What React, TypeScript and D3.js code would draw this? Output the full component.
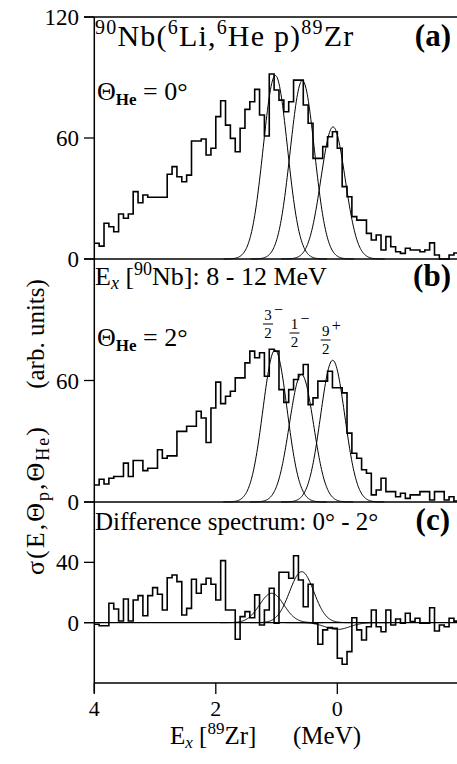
import React from "react";
import * as d3 from "d3";

// ---- data ----
const binStart = 4; // MeV, left edge of first bin
const binWidth = 0.08; // MeV
const countsA = [
  7.8, 6.4, 17.7, 16, 13.5, 22.3, 20.2, 22.3, 33.4, 27.9, 31.7, 30.6, 30.6, 30.6, 30.6,
  42, 45.8, 40.8, 38.3, 41.6, 58.5, 58.5, 59.5, 51.6, 54.9, 70.6, 78.5, 66.4, 59.8, 53.2,
  64.8, 74.2, 78, 84.1, 71.4, 61, 91.7, 83.8, 78.8, 73, 78, 88.7, 88.7, 76.4, 67.3,
  49.9, 49.9, 55.7, 60.6, 63.1, 54.9, 35.9, 30.9, 21, 19.3, 19.3, 12.7, 9.4, 11.9, 4.5,
  11.1, 6.1, 3.6, 2.8, 5.3, 4.5, 4.5, 3.6, 4.5, 8, 2, 0, 0, 2, 3,
];
const countsB = [
  8.4, 11.2, 8.9, 11.7, 12.6, 12.6, 19.2, 12.6, 20.5, 20.5, 15.5, 16.7, 16.7, 25.8, 21.6,
  22.8, 22.8, 34.9, 34.9, 37.4, 37.4, 44.8, 41.5, 29.4, 46.4, 59.2, 48.6, 52.2, 54.7, 61.3,
  61.3, 68.7, 74.5, 71.2, 73.7, 62.1, 75.4, 74.5, 55.5, 49.2, 55.5, 60.5, 63, 67.9, 48.1,
  51.4, 59.7, 59.7, 64.6, 56.4, 56.4, 53.9, 34, 24.1, 21.6, 15.9, 14.2, 3.5, 5.9, 11.7,
  5.1, 5.1, 2.6, 4.3, 1.8, 3.5, 3.5, 5.1, 5.1, 1, 5.1, 5.1, 1, 2.6, 0.5,
];
const countsC = [
  -1, -2, -2, 12.9, 9.1, 1.1, 15.7, 1.1, 15, 17.9, 4.6, 17.9, 23.2, 18.8, 8.4,
  29.8, 31.6, 27.2, 5.1, 9.5, 28.8, 19.5, 25.5, 29.4, 25.5, 15, 41.1, 8.4, 8.4, -11,
  4, 7.3, 3.3, 18.4, -1.5, 8.4, 22.8, -0.4, 33.4, 33.4, 29.4, 44.4, 28.3, 10.6, 25.5,
  -0.4, -14.3, -4.8, -3.3, -3.7, -23.6, -27.6, -19.2, 3.3, -4.8, -11.5, -2.7, 8.4, -2.7, -6,
  8.4, -1.5, 2.4, -0.4, 6.2, 0.7, 2.9, -0.4, -0.4, 9.9, -5.5, -1.5, -2.7, 2.9, 1,
];
const peakSigma = 0.2;
const peaksA = [
  { e: 1.02, a: 91 },
  { e: 0.575, a: 88.5 },
  { e: 0.07, a: 65.5 },
];
const peaksB = [
  { e: 1.025, a: 75 },
  { e: 0.59, a: 63 },
  { e: 0.076, a: 70 },
];
const peaksC = [
  { e: 1.08, a: 19.5 },
  { e: 0.586, a: 33.8 },
  { e: 0.0, a: -4.5 },
];
const spinNumerators = ["3", "1", "9"];
const spinParities = ["\u2212", "\u2212", "+"];
const yTicksA = [120, 60, 0];
const yTicksB = [60, 0];
const yTicksC = [40, 0];
const xTicks = [4, 2, 0];

const FONT = '"Liberation Serif", "DejaVu Serif", "Noto Serif", "Times New Roman", Times, serif';

export default function App() {
  const x = d3.scaleLinear().domain([4, -2]).range([94.3, 458.8]);
  const yA = d3.scaleLinear().domain([0, 120]).range([259, 17]);
  const yB = d3.scaleLinear().domain([0, 120]).range([502, 259]);
  const yC = d3.scaleLinear().domain([-40, 80]).range([683, 502]);

  const histPath = (counts: number[], y: d3.ScaleLinear<number, number>) => {
    const pts: [number, number][] = counts.map((v, i) => [binStart - i * binWidth, v]);
    pts.push([binStart - counts.length * binWidth, counts[counts.length - 1]]);
    return d3
      .line<[number, number]>()
      .x((d) => x(d[0]))
      .y((d) => y(d[1]))
      .curve(d3.curveStepAfter)(pts) as string;
  };
  const gaussPath = (p: { e: number; a: number }, y: d3.ScaleLinear<number, number>) => {
    const es = d3.range(p.e - 0.85, p.e + 0.8501, 0.01);
    return d3
      .line<number>()
      .x((e) => x(e))
      .y((e) => y(p.a * Math.exp(-0.5 * ((e - p.e) / peakSigma) ** 2)))(es) as string;
  };

  const xL = 94.3;
  const xR = 457;
  const axisW = 1.5;

  const yLabel = (v: number, yy: number, key: string) => (
    <g key={key}>
      <line x1={84} x2={xL} y1={yy} y2={yy} stroke="#000" strokeWidth={1.3} />
      <text x={79} y={yy + 8} textAnchor="end" fontSize={23}>
        {v}
      </text>
    </g>
  );

  const fracTops = [310, 319, 326];

  return (
    <svg
      width={457}
      height={764}
      style={{ position: "absolute", left: 0, top: 0, background: "#fff", fontFamily: FONT }}
    >
      <rect x={0} y={0} width={457} height={764} fill="#fff" />
      {/* frame lines */}
      <line x1={84} x2={xR} y1={yA(120)} y2={yA(120)} stroke="#000" strokeWidth={axisW} />
      <line x1={84} x2={xR} y1={yA(0)} y2={yA(0)} stroke="#000" strokeWidth={axisW} />
      <line x1={84} x2={xR} y1={yB(0)} y2={yB(0)} stroke="#000" strokeWidth={axisW} />
      <line x1={84} x2={xR} y1={yC(0)} y2={yC(0)} stroke="#000" strokeWidth={1.2} />
      <line x1={xL} x2={xR} y1={yC(-40)} y2={yC(-40)} stroke="#000" strokeWidth={axisW} />
      <line x1={xL} x2={xL} y1={yA(120)} y2={yC(-40) + 10} stroke="#000" strokeWidth={axisW} />

      {/* y ticks */}
      {yTicksA.map((v) => yLabel(v, yA(v), "a" + v))}
      {yTicksB.map((v) => yLabel(v, yB(v), "b" + v))}
      {yTicksC.map((v) => yLabel(v, yC(v), "c" + v))}

      {/* x ticks */}
      {xTicks.map((v) => (
        <g key={"x" + v}>
          <line x1={x(v)} x2={x(v)} y1={yC(-40)} y2={yC(-40) + 11} stroke="#000" strokeWidth={1.3} />
          <text x={x(v)} y={716} textAnchor="middle" fontSize={22}>
            {v}
          </text>
        </g>
      ))}

      {/* histograms */}
      <path d={histPath(countsA, yA)} fill="none" stroke="#000" strokeWidth={1.6} />
      <path d={histPath(countsB, yB)} fill="none" stroke="#000" strokeWidth={1.6} />
      <path d={histPath(countsC, yC)} fill="none" stroke="#000" strokeWidth={1.6} />

      {/* fitted peaks */}
      {peaksA.map((p, i) => (
        <path key={"ga" + i} d={gaussPath(p, yA)} fill="none" stroke="#000" strokeWidth={1} />
      ))}
      {peaksB.map((p, i) => (
        <path key={"gb" + i} d={gaussPath(p, yB)} fill="none" stroke="#000" strokeWidth={1} />
      ))}
      {peaksC.map((p, i) => (
        <path key={"gc" + i} d={gaussPath(p, yC)} fill="none" stroke="#000" strokeWidth={1} />
      ))}

      {/* panel (a) texts */}
      <text x={95} y={46} fontSize={30} letterSpacing={1.2}>
        <tspan fontSize={20} dy={-12}>90</tspan>
        <tspan fontSize={30} dy={12}>Nb(</tspan>
        <tspan fontSize={20} dy={-12}>6</tspan>
        <tspan fontSize={30} dy={12}>Li,</tspan>
        <tspan fontSize={20} dy={-12}>6</tspan>
        <tspan fontSize={30} dy={12}>He p)</tspan>
        <tspan fontSize={20} dy={-12}>89</tspan>
        <tspan fontSize={30} dy={12}>Zr</tspan>
      </text>
      <text x={451} y={46} fontSize={31} fontWeight="bold" textAnchor="end">(a)</text>
      <text x={97} y={100} fontSize={26}>
        Θ
        <tspan fontSize={17} fontWeight="bold" dy={5}>He</tspan>
        <tspan dy={-5}> = 0°</tspan>
      </text>

      {/* panel (b) texts */}
      <text x={95} y={285} fontSize={26}>
        E
        <tspan fontSize={18} fontStyle="italic" dy={4}>x</tspan>
        <tspan dy={-4}> [</tspan>
        <tspan fontSize={18} dy={-10}>90</tspan>
        <tspan dy={10}>Nb]:  8 - 12 MeV</tspan>
      </text>
      <text x={451} y={286} fontSize={31} fontWeight="bold" textAnchor="end">(b)</text>
      <text x={97} y={346} fontSize={26}>
        Θ
        <tspan fontSize={17} fontWeight="bold" dy={5}>He</tspan>
        <tspan dy={-5}> = 2°</tspan>
      </text>
      {peaksB.map((p, i) => {
        const cx = x(p.e) - 7;
        const t = fracTops[i];
        return (
          <g key={"spin" + i}>
            <text x={cx} y={t + 10} textAnchor="middle" fontSize={15}>{spinNumerators[i]}</text>
            <line x1={cx - 5} x2={cx + 5} y1={t + 14} y2={t + 14} stroke="#000" strokeWidth={1} />
            <text x={cx} y={t + 28} textAnchor="middle" fontSize={15}>2</text>
            <text x={cx + 6} y={t + 5} fontSize={16}>{spinParities[i]}</text>
          </g>
        );
      })}

      {/* panel (c) texts */}
      <text x={95} y={530} fontSize={25}>Difference spectrum:  0° - 2°</text>
      <text x={450} y={530} fontSize={31} fontWeight="bold" textAnchor="end">(c)</text>

      {/* x axis label */}
      <text x={170} y={744} fontSize={25}>
        E
        <tspan fontSize={17} fontStyle="italic" dy={4}>x</tspan>
        <tspan dy={-4}> [</tspan>
        <tspan fontSize={17} dy={-10}>89</tspan>
        <tspan dy={10}>Zr]</tspan>
      </text>
      <text x={293} y={744} fontSize={25}>(MeV)</text>

      {/* y axis label */}
      <g transform="translate(44,500) rotate(-90)">
        <text x={0} y={0} textAnchor="middle" fontSize={26} letterSpacing={2}>
          σ(E,Θ
          <tspan fontSize={18} dy={5}>p</tspan>
          <tspan dy={-5}>,Θ</tspan>
          <tspan fontSize={18} dy={5}>He</tspan>
          <tspan dy={-5}>)</tspan>
        </text>
      </g>
      <g transform="translate(44,334) rotate(-90)">
        <text x={0} y={0} textAnchor="middle" fontSize={25}>(arb. units)</text>
      </g>
    </svg>
  );
}
